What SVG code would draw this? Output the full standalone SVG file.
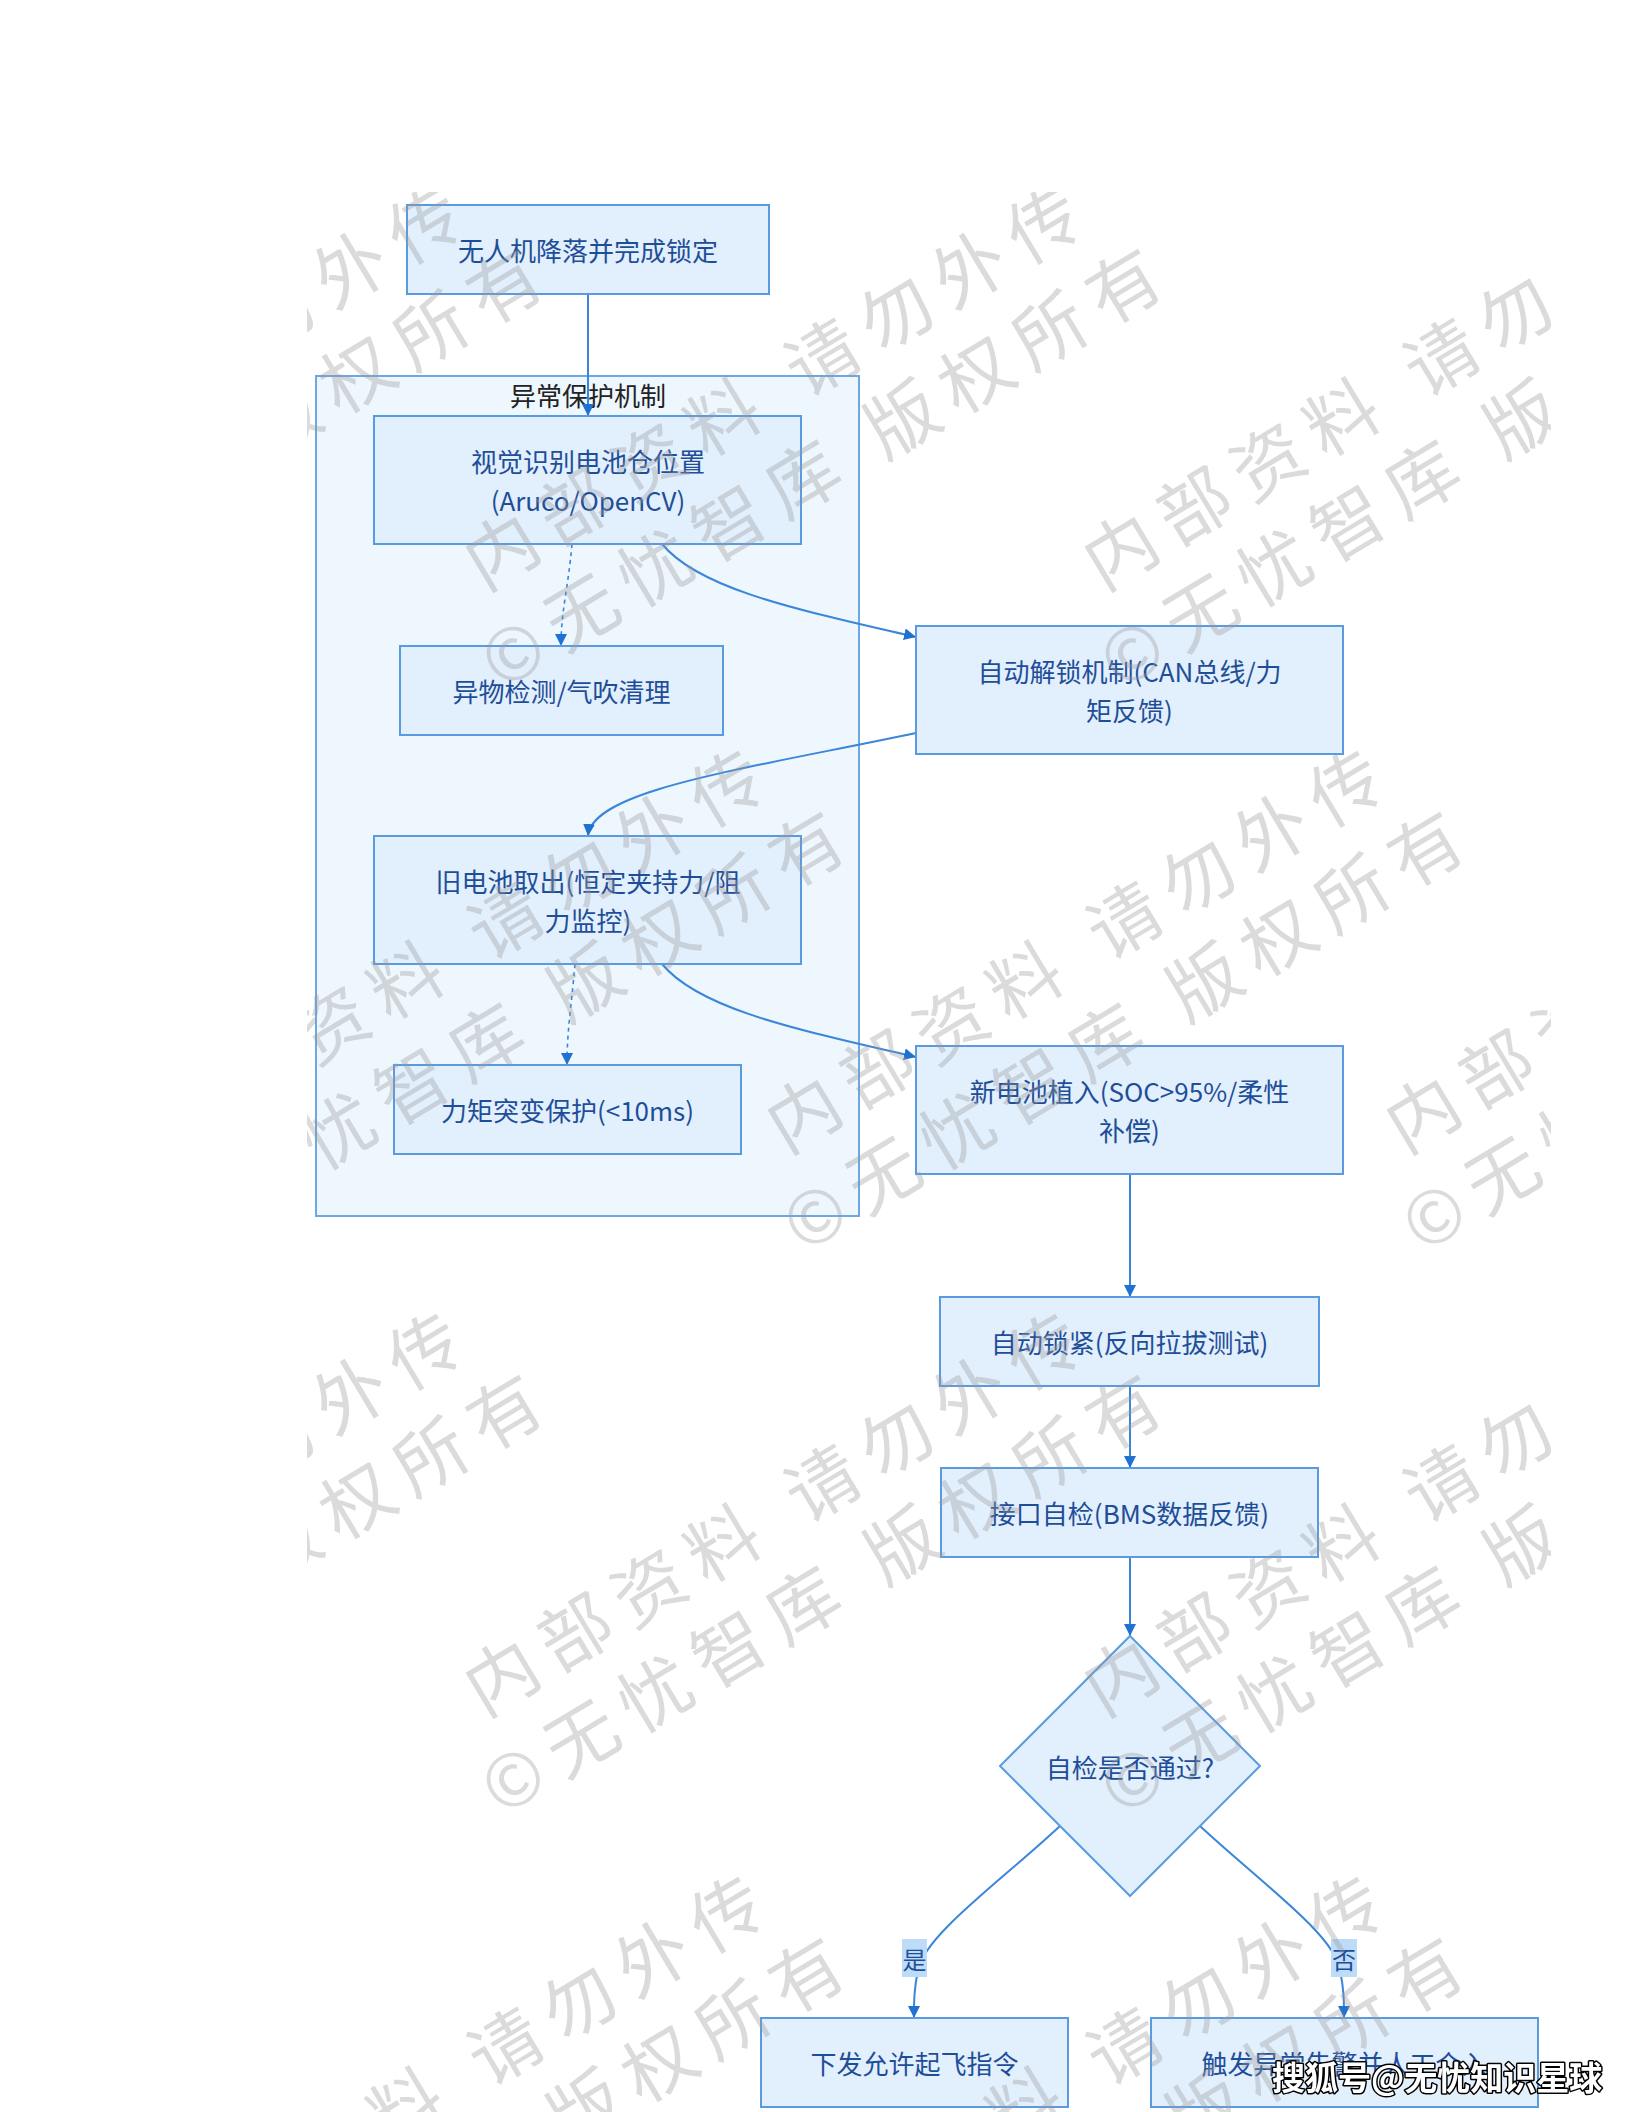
<svg xmlns="http://www.w3.org/2000/svg" width="1632" height="2112" viewBox="0 0 1632 2112">
<style>
.node{fill:#e2effc;stroke:#5a9be0;stroke-width:2}
.sub{fill:#eef6fe;stroke:#6ea7e2;stroke-width:2}
.t{font-family:"Noto Sans CJK SC","Noto Sans",sans-serif;font-size:26px;fill:#1f4e99;text-anchor:middle;dominant-baseline:central}
.st{font-family:"Noto Sans CJK SC","Noto Sans",sans-serif;font-size:26px;fill:#222;text-anchor:middle;dominant-baseline:central}
.e{fill:none;stroke:#3a86d8;stroke-width:2}
.d{fill:none;stroke:#3a86d8;stroke-width:1.6;stroke-dasharray:4,4}
.lbl{fill:#bddcf8}
.wm{font-family:"Noto Sans CJK SC","Noto Sans",sans-serif;font-size:72px;letter-spacing:14px;fill:#9a9a9a;text-anchor:middle;dominant-baseline:central}
</style>
<defs>
<marker id="ah" markerUnits="userSpaceOnUse" markerWidth="14" markerHeight="14" refX="12" refY="6" orient="auto">
<path d="M0,0 L12,6 L0,12 z" fill="#1f72d2"/>
</marker>
<clipPath id="wmclip"><rect x="307" y="192" width="1244" height="1920"/></clipPath>
<g id="wm" transform="rotate(-31)">
<text class="wm" x="0" y="-47">内部资料 请勿外传</text>
<text class="wm" x="0" y="47">©无忧智库 版权所有</text>
</g>
</defs>
<rect width="1632" height="2112" fill="#ffffff"/>

<g id="cluster-protect">
<rect class="sub" x="316" y="376" width="543" height="840"/>
<text class="st" x="588" y="394">异常保护机制</text>
</g>

<g id="connectors">
<path class="e" d="M588,294 L588,416" marker-end="url(#ah)"/>
<path class="d" d="M572,544 C568,590 561,610 561,646" marker-end="url(#ah)"/>
<path class="e" d="M662,544 C700,590 800,610 916,637" marker-end="url(#ah)"/>
<path class="e" d="M916,733 C740,770 592,790 588,836" marker-end="url(#ah)"/>
<path class="d" d="M575,964 C571,1010 567,1030 567,1065" marker-end="url(#ah)"/>
<path class="e" d="M662,964 C700,1010 800,1030 916,1057" marker-end="url(#ah)"/>
<path class="e" d="M1130,1174 L1130,1297" marker-end="url(#ah)"/>
<path class="e" d="M1130,1386 L1130,1468" marker-end="url(#ah)"/>
<path class="e" d="M1130,1557 L1130,1636" marker-end="url(#ah)"/>
<path class="e" d="M1060,1826 C1000,1882 925,1935 918,1970 C914,1990 914,2000 914,2018" marker-end="url(#ah)"/>
<path class="e" d="M1200,1826 C1260,1882 1335,1935 1340,1970 C1344,1990 1344,2000 1344,2018" marker-end="url(#ah)"/>
<g id="label-yes">
<rect class="lbl" x="902" y="1939" width="25" height="38"/>
<text class="t" x="914.5" y="1958" style="font-size:24px">是</text>
</g>
<g id="label-no">
<rect class="lbl" x="1331" y="1939" width="26" height="38"/>
<text class="t" x="1344" y="1958" style="font-size:24px">否</text>
</g>
</g>

<g id="node-land">
<rect class="node" x="407" y="205" width="362" height="89"/>
<text class="t" x="588" y="249.5">无人机降落并完成锁定</text>
</g>
<g id="node-vision">
<rect class="node" x="374" y="416" width="427" height="128"/>
<text class="t" x="588" y="460">视觉识别电池仓位置</text>
<text class="t" x="588" y="499">(Aruco/OpenCV)</text>
</g>
<g id="node-foreign">
<rect class="node" x="400" y="646" width="323" height="89"/>
<text class="t" x="561.5" y="690.5">异物检测/气吹清理</text>
</g>
<g id="node-unlock">
<rect class="node" x="916" y="626" width="427" height="128"/>
<text class="t" x="1129.5" y="670">自动解锁机制(CAN总线/力</text>
<text class="t" x="1129.5" y="709">矩反馈)</text>
</g>
<g id="node-remove">
<rect class="node" x="374" y="836" width="427" height="128"/>
<text class="t" x="588" y="880">旧电池取出(恒定夹持力/阻</text>
<text class="t" x="588" y="919">力监控)</text>
</g>
<g id="node-torque">
<rect class="node" x="394" y="1065" width="347" height="89"/>
<text class="t" x="567.5" y="1109.5">力矩突变保护(&lt;10ms)</text>
</g>
<g id="node-insert">
<rect class="node" x="916" y="1046" width="427" height="128"/>
<text class="t" x="1129.5" y="1090">新电池植入(SOC&gt;95%/柔性</text>
<text class="t" x="1129.5" y="1129">补偿)</text>
</g>
<g id="node-lock">
<rect class="node" x="940" y="1297" width="379" height="89"/>
<text class="t" x="1129.5" y="1341.5">自动锁紧(反向拉拔测试)</text>
</g>
<g id="node-selfcheck">
<rect class="node" x="941" y="1468" width="377" height="89"/>
<text class="t" x="1129.5" y="1512.5">接口自检(BMS数据反馈)</text>
</g>
<g id="node-decision">
<path class="node" d="M1130,1636 L1260,1766 L1130,1896 L1000,1766 Z"/>
<text class="t" x="1130" y="1766">自检是否通过?</text>
</g>
<g id="node-takeoff">
<rect class="node" x="761" y="2018" width="307" height="89"/>
<text class="t" x="914.5" y="2062.5">下发允许起飞指令</text>
</g>
<g id="node-alarm">
<rect class="node" x="1151" y="2018" width="387" height="89"/>
<text class="t" x="1344.5" y="2062.5">触发异常告警并人工介入</text>
</g>

<g id="watermarks" clip-path="url(#wmclip)" opacity="0.36">
<use href="#wm" transform="translate(181,420)"/>
<use href="#wm" transform="translate(800,420)"/>
<use href="#wm" transform="translate(1419,420)"/>
<use href="#wm" transform="translate(483,983)"/>
<use href="#wm" transform="translate(1102,983)"/>
<use href="#wm" transform="translate(1721,983)"/>
<use href="#wm" transform="translate(181,1546)"/>
<use href="#wm" transform="translate(800,1546)"/>
<use href="#wm" transform="translate(1419,1546)"/>
<use href="#wm" transform="translate(483,2109)"/>
<use href="#wm" transform="translate(1102,2109)"/>
</g>

<text x="1272" y="2090" style="font-family:'Noto Sans CJK SC','Noto Sans',sans-serif;font-size:33px;font-weight:bold;fill:#ffffff;stroke:#000000;stroke-width:3;paint-order:stroke;stroke-linejoin:round">搜狐号@无忧知识星球</text>
</svg>
